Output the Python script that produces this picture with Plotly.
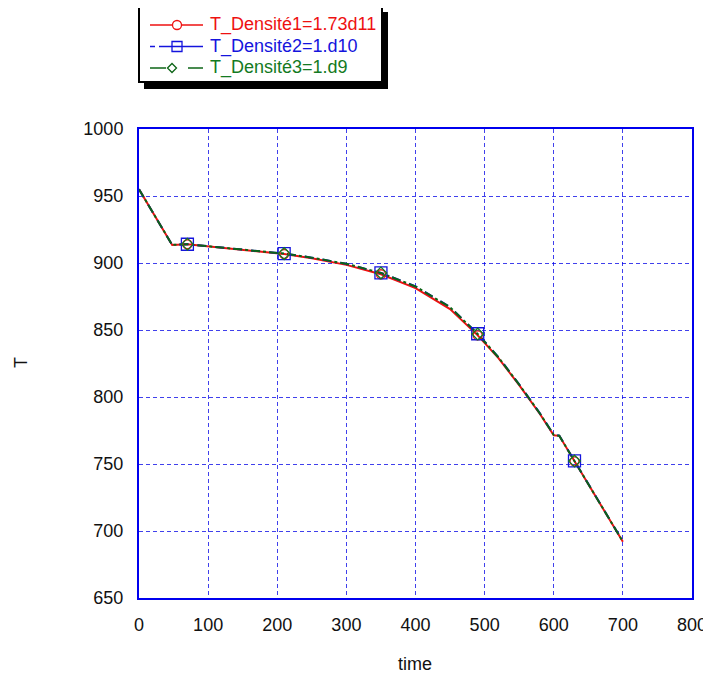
import plotly.graph_objects as go

# ---- data ----
time = [0, 48, 70, 100, 150, 210, 250, 300, 350, 400, 450, 490, 520, 550, 580, 600, 608, 630, 650, 700]
T_dens1 = [955, 913.5, 914, 912.4, 910.2, 906.7, 903.5, 898.6, 891.6, 881.2, 865.6, 846.0, 829.0, 808.8, 787.3, 771.5, 771.0, 752.0, 734.5, 692.0]
T_dens2 = [955, 913.5, 914, 912.5, 910.4, 907.0, 904.0, 899.4, 892.6, 882.6, 867.2, 847.2, 829.8, 809.4, 787.8, 771.8, 771.2, 752.3, 734.8, 692.2]
T_dens3 = [955, 913.5, 914, 912.5, 910.4, 907.0, 904.0, 899.4, 892.6, 882.5, 867.0, 847.0, 829.6, 809.3, 787.7, 771.7, 771.1, 752.2, 734.7, 692.1]
marker_times = [70, 210, 350, 490, 630]
labels = ["T_Densité1=1.73d11", "T_Densité2=1.d10", "T_Densité3=1.d9"]
x_ticks = [0, 100, 200, 300, 400, 500, 600, 700, 800]
y_ticks = [650, 700, 750, 800, 850, 900, 950, 1000]

RED, BLUE, GREEN = "#ee1111", "#1414dd", "#137a22"
GREEN_LINE = "#0c6416"

OFF = 8  # page body margin
W, H = 711 - OFF, 681 - OFF
L, R, TOP, BOT = 139 - OFF, 692 - OFF, 129 - OFF, 598 - OFF
def px(x):
    return (x - OFF - L) / (R - L)
def py(y):
    return (BOT - (y - OFF)) / (BOT - TOP)

fig = go.Figure()
series = [
    (T_dens1, RED, RED, "solid", "circle-open", 9),
    (T_dens2, BLUE, BLUE, "dash", "square-open", 12),
    (T_dens3, GREEN_LINE, GREEN, "dashdot", "diamond-open", 9),
]
for ys, lc, mc, dash, sym, ms in series:
    fig.add_trace(go.Scatter(x=time, y=ys, mode="lines", showlegend=False,
                             line=dict(color=lc, width=2, dash=dash)))
for ys, lc, mc, dash, sym, ms in series:
    fig.add_trace(go.Scatter(x=marker_times, y=[ys[time.index(m)] for m in marker_times],
                             mode="markers", showlegend=False,
                             marker=dict(symbol=sym, size=ms, color=mc, line=dict(color=mc, width=1.3))))

axis_common = dict(showline=True, linecolor="#0000ee", linewidth=2, mirror=True,
                   showgrid=True, gridcolor="rgba(0,0,230,0.75)", griddash="4px,3px", gridwidth=1.3,
                   ticks="", zeroline=False,
                   tickfont=dict(family="Liberation Sans, Arial", size=18, color="#111111"))

fig.update_xaxes(range=[0, 800], tickvals=x_ticks, ticktext=[str(v) for v in x_ticks],
                 ticklabelstandoff=9, **axis_common)
fig.update_yaxes(range=[650, 1000], tickvals=y_ticks, ticktext=[str(v) for v in y_ticks],
                 ticklabelstandoff=10, **axis_common)

shapes = []
annotations = []
# legend shadow + box
shapes.append(dict(type="rect", xref="paper", yref="paper", x0=px(144), x1=px(388), y0=py(89), y1=py(12),
                   fillcolor="black", line=dict(width=0), layer="above"))
shapes.append(dict(type="rect", xref="paper", yref="paper", x0=px(139), x1=px(382), y0=py(82), y1=py(7),
                   fillcolor="white", line=dict(color="black", width=2), layer="above"))
rows = [25, 46.5, 68]
# red entry
shapes.append(dict(type="line", xref="paper", yref="paper", x0=px(150), x1=px(203), y0=py(rows[0]), y1=py(rows[0]),
                   line=dict(color=RED, width=1.5), layer="above"))
shapes.append(dict(type="circle", xref="paper", yref="paper", x0=px(172.5), x1=px(181.5), y0=py(rows[0] + 4.5), y1=py(rows[0] - 4.5),
                   fillcolor="white", line=dict(color=RED, width=1.3), layer="above"))
# blue entry
for a, b in [(150, 155), (159, 164), (182, 203)]:
    shapes.append(dict(type="line", xref="paper", yref="paper", x0=px(a), x1=px(b), y0=py(rows[1]), y1=py(rows[1]),
                       line=dict(color=BLUE, width=1.5), layer="above"))
shapes.append(dict(type="line", xref="paper", yref="paper", x0=px(164), x1=px(182), y0=py(rows[1]), y1=py(rows[1]),
                   line=dict(color=BLUE, width=1.5), layer="above"))
shapes.append(dict(type="rect", xref="paper", yref="paper", x0=px(172), x1=px(182), y0=py(rows[1] + 5), y1=py(rows[1] - 5),
                   fillcolor="rgba(0,0,0,0)", line=dict(color=BLUE, width=1.3), layer="above"))
# green entry
for a, b in [(150, 166), (188, 203)]:
    shapes.append(dict(type="line", xref="paper", yref="paper", x0=px(a), x1=px(b), y0=py(rows[2]), y1=py(rows[2]),
                       line=dict(color=GREEN_LINE, width=1.5), layer="above"))
cx, cy, d = 172, rows[2], 4.5
shapes.append(dict(type="path", xref="paper", yref="paper",
                   path=f"M {px(cx-d)},{py(cy)} L {px(cx)},{py(cy-d)} L {px(cx+d)},{py(cy)} L {px(cx)},{py(cy+d)} Z",
                   fillcolor="white", line=dict(color=GREEN_LINE, width=1.3), layer="above"))
for lab, col, ry in zip(labels, [RED, BLUE, GREEN], rows):
    annotations.append(dict(text=lab, xref="paper", yref="paper", x=px(208), y=py(ry), xanchor="left", yanchor="middle",
                            showarrow=False, font=dict(family="Liberation Sans, Arial", size=18, color=col)))
# axis titles
annotations.append(dict(text="T", xref="paper", yref="paper", x=px(21), y=py(363), xanchor="center", yanchor="middle",
                        textangle=-90, showarrow=False, font=dict(family="Liberation Sans, Arial", size=18, color="#111111")))
annotations.append(dict(text="time", xref="paper", yref="paper", x=px(415), y=py(664), xanchor="center", yanchor="middle",
                        showarrow=False, font=dict(family="Liberation Sans, Arial", size=18, color="#111111")))

fig.update_layout(width=W, height=H, margin=dict(l=L, r=W - R, t=TOP, b=H - BOT, autoexpand=False),
                  plot_bgcolor="white", paper_bgcolor="white", shapes=shapes, annotations=annotations,
                  showlegend=False)

fig.write_html("out.html")
